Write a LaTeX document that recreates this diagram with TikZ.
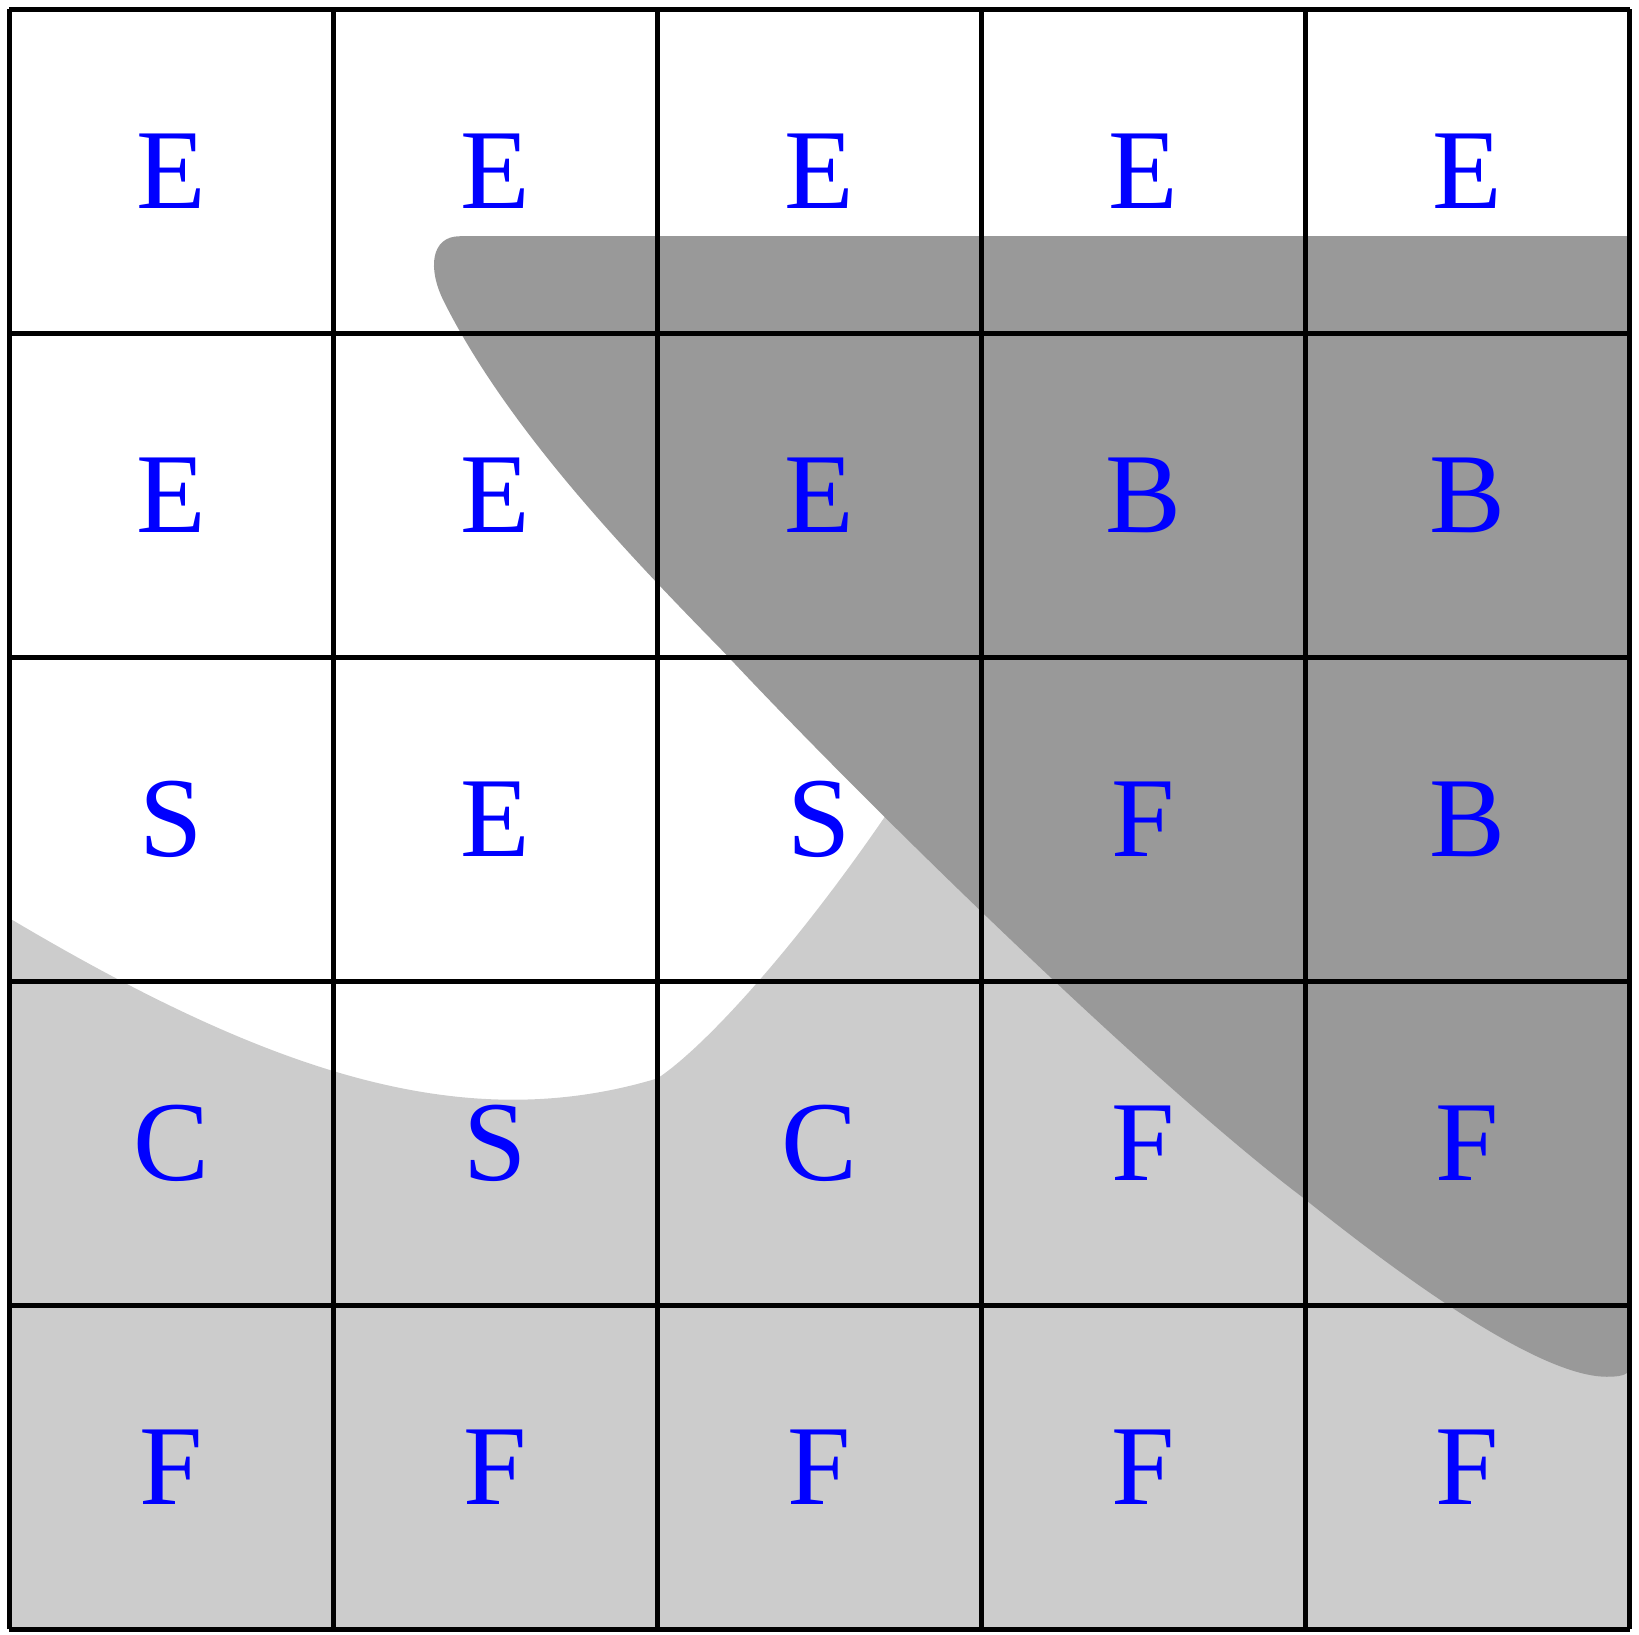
\documentclass[tikz,border=0pt]{standalone}
\usepackage{fontspec}
\setmainfont{Liberation Serif}
\usepackage{tikz}
\usepackage{xcolor}
\definecolor{Silver}{HTML}{CCCCCC}
\definecolor{Nobel}{HTML}{999999}
\definecolor{Letter}{HTML}{0000FF}
\tikzset{cell/.style={text=Letter,font=\fontsize{10}{12}\selectfont}}

\begin{document}
\begin{tikzpicture}
     \useasboundingbox (-0.0293,-0.017) rectangle (5.0293,5.0293);

     % light region
     \fill[Silver] (0,2.195) .. controls (0.8,1.72) and (1.4,1.52) .. (2,1.701)
        .. controls (2.15,1.80) and (2.45,2.13) .. (2.75,2.58)
        -- (5,2.58) -- (5,0) -- (0,0) -- cycle;

     % dark region
     \fill[Nobel] (5,4.3) -- (1.39,4.3)
        .. controls (1.30,4.30) and (1.29,4.20) .. (1.34,4.10)
        .. controls (1.541,3.698) and (1.928,3.299) .. (2.208,3.013)
        .. controls (2.628,2.563) and (3.518,1.692) .. (3.988,1.336)
        .. controls (4.22,1.15) and (4.70,0.78) .. (4.93,0.78)
        .. controls (4.97,0.78) and (4.99,0.785) .. (5,0.80) -- cycle;

     \draw (0,0) grid (5,5);

     \foreach \row [count=\j] in {{E,E,E,E,E},{E,E,E,B,B},{S,E,S,F,B},{C,S,C,F,F},{F,F,F,F,F}}
        \foreach \lbl [count=\i] in \row
           \node[cell] (c\j\i) at (\i-0.5,5.5-\j) {\lbl};
    \end{tikzpicture}
\end{document}
